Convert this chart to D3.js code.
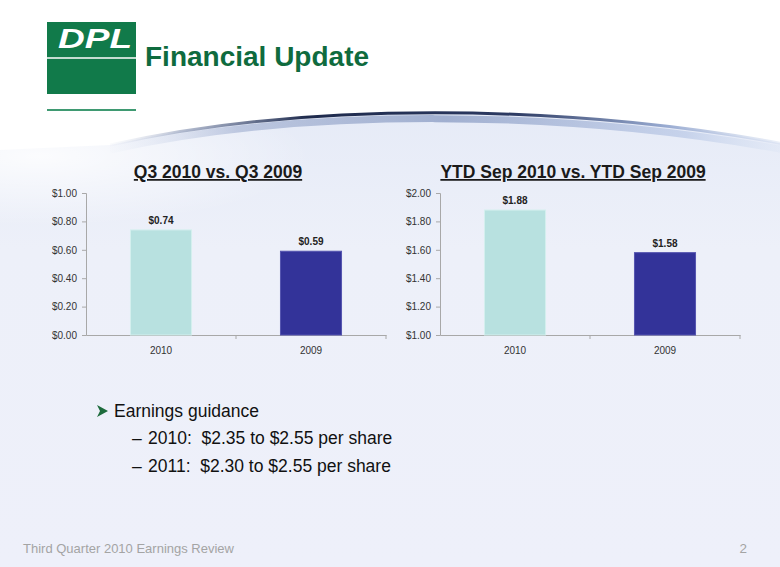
<!DOCTYPE html>
<html><head><meta charset="utf-8">
<script src="https://cdn.jsdelivr.net/npm/d3@7"></script>
<style>
html,body{margin:0;padding:0;background:#fff;}
svg{display:block;font-family:Arial,"Liberation Sans",sans-serif;}
</style></head>
<body><svg id="c" width="780" height="567"></svg>
<script>
// ---- data ----
const categories = ["2010", "2009"];
const q3Values = [0.74, 0.59];
const ytdValues = [1.88, 1.58];
const q3Ticks = [0, 0.2, 0.4, 0.6, 0.8, 1.0];
const ytdTicks = [1.0, 1.2, 1.4, 1.6, 1.8, 2.0];
const barColors = ["#b8e1e0", "#333399"];
const barStrokes = ["#d4efee", "#5555b0"];
const chartTitles = ["Q3 2010 vs. Q3 2009", "YTD Sep 2010 vs. YTD Sep 2009"];
const bulletMain = "Earnings guidance";
const bulletSubs = ["2010:  $2.35 to $2.55 per share", "2011:  $2.30 to $2.55 per share"];

const svg = d3.select("#c");
const defs = svg.append("defs");

// background gradients
const bg = defs.append("linearGradient").attr("id","bg").attr("x1",0).attr("y1",0).attr("x2",0).attr("y2",1);
bg.append("stop").attr("offset","0").attr("stop-color","#e6ebf7");
bg.append("stop").attr("offset","0.3").attr("stop-color","#edf0f9");
bg.append("stop").attr("offset","1").attr("stop-color","#eef0fa");
const haze = defs.append("radialGradient").attr("id","haze").attr("cx",0.05).attr("cy",0.28).attr("r",0.35);
haze.append("stop").attr("offset","0").attr("stop-color","#ffffff").attr("stop-opacity",0.85);
haze.append("stop").attr("offset","1").attr("stop-color","#ffffff").attr("stop-opacity",0);
const sw = defs.append("linearGradient").attr("id","sw").attr("gradientUnits","userSpaceOnUse")
  .attr("x1",100).attr("y1",0).attr("x2",790).attr("y2",0);
[[0,"#c8d2ea",0],[0.12,"#6a7aa0",0.5],[0.3,"#1e2a4c",1],[0.6,"#2c3a62",1],[0.82,"#8ea2cc",0.9],[1,"#d6e0f2",0.4]]
  .forEach(s=>sw.append("stop").attr("offset",s[0]).attr("stop-color",s[1]).attr("stop-opacity",s[2]));
const sw2 = defs.append("linearGradient").attr("id","sw2").attr("gradientUnits","userSpaceOnUse")
  .attr("x1",100).attr("y1",0).attr("x2",790).attr("y2",0);
[[0,"#d8e0f2",0],[0.2,"#9eadcf",0.6],[0.5,"#8fa0c6",0.8],[0.85,"#b9c8e6",0.7],[1,"#dde6f5",0.3]]
  .forEach(s=>sw2.append("stop").attr("offset",s[0]).attr("stop-color",s[1]).attr("stop-opacity",s[2]));

svg.append("rect").attr("width",780).attr("height",567).attr("fill","#ffffff");
const curve = "M 110,145 C 300,102 560,102 790,145";
svg.append("path").attr("d", curve + " L 790,567 L 0,567 L 0,150 Z").attr("fill","url(#bg)");
svg.append("rect").attr("x",0).attr("y",100).attr("width",780).attr("height",200).attr("fill","url(#haze)");
svg.append("path").attr("d","M 110,150 C 300,108 560,108 790,151").attr("fill","none")
  .attr("stroke","url(#sw2)").attr("stroke-width",7);
svg.append("path").attr("d",curve).attr("fill","none").attr("stroke","url(#sw)").attr("stroke-width",3);

// logo
const green = "#117a4a";
svg.append("rect").attr("x",47).attr("y",22).attr("width",89).attr("height",72).attr("fill",green);
svg.append("line").attr("x1",47).attr("x2",136).attr("y1",58).attr("y2",58).attr("stroke","#fff").attr("stroke-width",1.5);
svg.append("text").attr("x",58).attr("y",48).attr("fill","#fff").attr("font-size",28).attr("font-weight","bold")
  .attr("font-style","italic").attr("textLength",74).attr("lengthAdjust","spacingAndGlyphs").text("DPL");
svg.append("line").attr("x1",47).attr("x2",136).attr("y1",110).attr("y2",110).attr("stroke","#3f9a72").attr("stroke-width",2);
svg.append("text").attr("x",145).attr("y",66).attr("fill","#0f6b3e").attr("font-size",28).attr("font-weight","bold")
  .text("Financial Update");

// charts
function drawChart(opts) {
  const g = svg.append("g");
  const x = d3.scaleBand().domain(categories).range([opts.x0, opts.x0 + 300]).paddingInner(0.593).paddingOuter(0.2965);
  const y = d3.scaleLinear().domain(opts.domain).range([335, 193]);
  g.append("text").attr("x", opts.titleX).attr("y", 178).attr("text-anchor","middle")
    .attr("font-size",17.5).attr("font-weight","bold").attr("fill","#1a1a1a").attr("text-decoration","underline")
    .text(opts.title);
  const ya = g.append("g").attr("transform",`translate(${opts.x0},0)`)
    .call(d3.axisLeft(y).tickValues(opts.ticks).tickFormat(d => "$" + d3.format(".2f")(d)).tickSize(4).tickPadding(5));
  ya.select(".domain").attr("stroke","#a8a8a8");
  ya.selectAll(".tick line").attr("stroke","#a8a8a8");
  ya.selectAll(".tick text").attr("font-size",10).attr("fill","#333").attr("font-family","Arial, 'Liberation Sans', sans-serif");
  const xa = g.append("g").attr("transform","translate(0,335)")
    .call(d3.axisBottom(x).tickSize(0).tickPadding(12));
  xa.select(".domain").attr("stroke","#a8a8a8");
  xa.selectAll(".tick text").attr("font-size",10).attr("fill","#333").attr("font-family","Arial, 'Liberation Sans', sans-serif");
  const bounds = [x.range()[0] + x.step(), x.range()[1]];
  xa.selectAll(".bt").data(bounds).join("line").attr("class","bt")
    .attr("x1",d=>d).attr("x2",d=>d).attr("y1",0).attr("y2",4).attr("stroke","#a8a8a8");
  g.selectAll("rect.bar").data(opts.values).join("rect").attr("class","bar")
    .attr("x",(d,i)=>x(categories[i])).attr("width",x.bandwidth())
    .attr("y",d=>y(d)).attr("height",d=>y(opts.domain[0]) - y(d))
    .attr("fill",(d,i)=>barColors[i]).attr("stroke",(d,i)=>barStrokes[i]).attr("stroke-width",1);
  g.selectAll("text.val").data(opts.values).join("text").attr("class","val")
    .attr("x",(d,i)=>x(categories[i]) + x.bandwidth()/2).attr("y",d=>y(d) - 6)
    .attr("text-anchor","middle").attr("font-size",10).attr("font-weight","bold").attr("fill","#222")
    .text(d => "$" + d3.format(".2f")(d));
}
drawChart({x0:86, domain:[0,1], ticks:q3Ticks, values:q3Values, title:chartTitles[0], titleX:218});
drawChart({x0:440, domain:[1,2], ticks:ytdTicks, values:ytdValues, title:chartTitles[1], titleX:573});

// bullets
svg.append("path").attr("d","M 97,405 L 108,411 L 97,417 L 100,411 Z").attr("fill","#1d6b3c");
svg.append("text").attr("x",114).attr("y",417).attr("font-size",17.5).attr("fill","#111").text(bulletMain);
svg.selectAll("text.dash").data(bulletSubs).join("text").attr("class","dash")
  .attr("x",132).attr("y",(d,i)=>444 + i*28).attr("font-size",17.5).attr("fill","#111").text("\u2013");
svg.selectAll("text.sub").data(bulletSubs).join("text").attr("class","sub")
  .attr("x",148).attr("y",(d,i)=>444 + i*28).attr("font-size",17.5).attr("fill","#111")
  .style("white-space","pre").text(d => d);

// footer
svg.append("text").attr("x",23).attr("y",553).attr("font-size",13).attr("fill","#a4a4a4")
  .text("Third Quarter 2010 Earnings Review");
svg.append("text").attr("x",747).attr("y",553).attr("font-size",13.5).attr("fill","#a4a4a4").attr("text-anchor","end").text("2");
</script></body></html>
